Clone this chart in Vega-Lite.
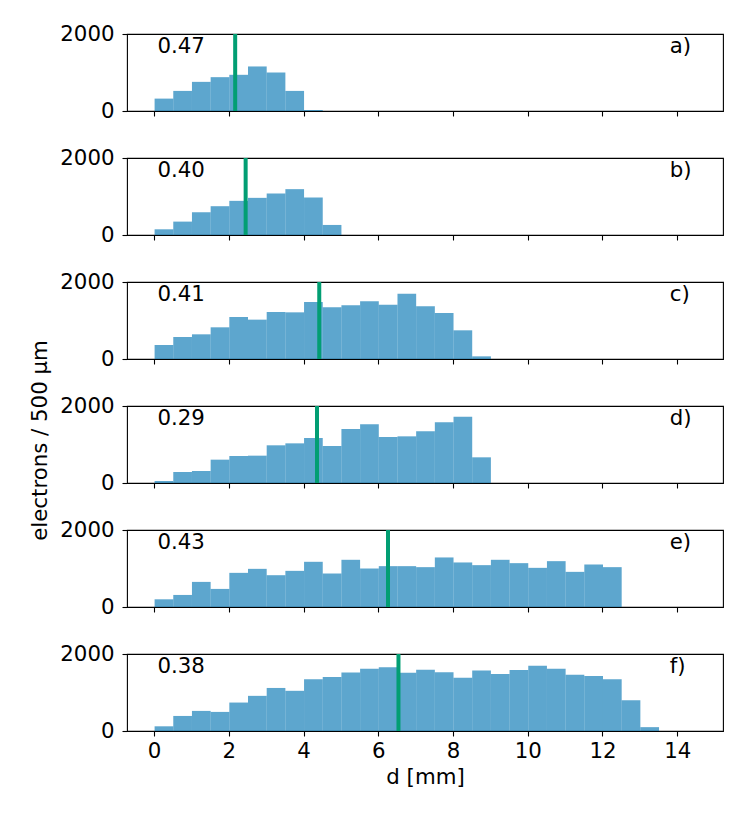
{
  "$schema": "https://vega.github.io/schema/vega-lite/v6.json",
  "padding": {"left": 29, "top": 22, "right": 24, "bottom": 20},
  "spacing": 47,
  "bounds": "flush",
  "datasets": {
    "hist": [
      {"panel": "a", "d": 0, "n": 322}, {"panel": "a", "d": 0.5, "n": 522}, {"panel": "a", "d": 1, "n": 757},
      {"panel": "a", "d": 1.5, "n": 879}, {"panel": "a", "d": 2, "n": 940}, {"panel": "a", "d": 2.5, "n": 1157},
      {"panel": "a", "d": 3, "n": 1000}, {"panel": "a", "d": 3.5, "n": 522}, {"panel": "a", "d": 4, "n": 26},

      {"panel": "b", "d": 0, "n": 148}, {"panel": "b", "d": 0.5, "n": 348}, {"panel": "b", "d": 1, "n": 591},
      {"panel": "b", "d": 1.5, "n": 748}, {"panel": "b", "d": 2, "n": 887}, {"panel": "b", "d": 2.5, "n": 965},
      {"panel": "b", "d": 3, "n": 1078}, {"panel": "b", "d": 3.5, "n": 1191}, {"panel": "b", "d": 4, "n": 974},
      {"panel": "b", "d": 4.5, "n": 261},

      {"panel": "c", "d": 0, "n": 364}, {"panel": "c", "d": 0.5, "n": 572}, {"panel": "c", "d": 1, "n": 641},
      {"panel": "c", "d": 1.5, "n": 823}, {"panel": "c", "d": 2, "n": 1091}, {"panel": "c", "d": 2.5, "n": 1022},
      {"panel": "c", "d": 3, "n": 1221}, {"panel": "c", "d": 3.5, "n": 1212}, {"panel": "c", "d": 4, "n": 1481},
      {"panel": "c", "d": 4.5, "n": 1342}, {"panel": "c", "d": 5, "n": 1394}, {"panel": "c", "d": 5.5, "n": 1498},
      {"panel": "c", "d": 6, "n": 1412}, {"panel": "c", "d": 6.5, "n": 1697}, {"panel": "c", "d": 7, "n": 1368},
      {"panel": "c", "d": 7.5, "n": 1195}, {"panel": "c", "d": 8, "n": 745}, {"panel": "c", "d": 8.5, "n": 69},

      {"panel": "d", "d": 0, "n": 52}, {"panel": "d", "d": 0.5, "n": 286}, {"panel": "d", "d": 1, "n": 312},
      {"panel": "d", "d": 1.5, "n": 606}, {"panel": "d", "d": 2, "n": 701}, {"panel": "d", "d": 2.5, "n": 710},
      {"panel": "d", "d": 3, "n": 979}, {"panel": "d", "d": 3.5, "n": 1030}, {"panel": "d", "d": 4, "n": 1169},
      {"panel": "d", "d": 4.5, "n": 961}, {"panel": "d", "d": 5, "n": 1403}, {"panel": "d", "d": 5.5, "n": 1524},
      {"panel": "d", "d": 6, "n": 1195}, {"panel": "d", "d": 6.5, "n": 1212}, {"panel": "d", "d": 7, "n": 1342},
      {"panel": "d", "d": 7.5, "n": 1576}, {"panel": "d", "d": 8, "n": 1723}, {"panel": "d", "d": 8.5, "n": 667},

      {"panel": "e", "d": 0, "n": 200}, {"panel": "e", "d": 0.5, "n": 313}, {"panel": "e", "d": 1, "n": 652},
      {"panel": "e", "d": 1.5, "n": 470}, {"panel": "e", "d": 2, "n": 887}, {"panel": "e", "d": 2.5, "n": 991},
      {"panel": "e", "d": 3, "n": 826}, {"panel": "e", "d": 3.5, "n": 939}, {"panel": "e", "d": 4, "n": 1174},
      {"panel": "e", "d": 4.5, "n": 870}, {"panel": "e", "d": 5, "n": 1226}, {"panel": "e", "d": 5.5, "n": 1000},
      {"panel": "e", "d": 6, "n": 1061}, {"panel": "e", "d": 6.5, "n": 1061}, {"panel": "e", "d": 7, "n": 1035},
      {"panel": "e", "d": 7.5, "n": 1287}, {"panel": "e", "d": 8, "n": 1157}, {"panel": "e", "d": 8.5, "n": 1087},
      {"panel": "e", "d": 9, "n": 1226}, {"panel": "e", "d": 9.5, "n": 1139}, {"panel": "e", "d": 10, "n": 1017},
      {"panel": "e", "d": 10.5, "n": 1191}, {"panel": "e", "d": 11, "n": 913}, {"panel": "e", "d": 11.5, "n": 1104},
      {"panel": "e", "d": 12, "n": 1035},

      {"panel": "f", "d": 0, "n": 122}, {"panel": "f", "d": 0.5, "n": 391}, {"panel": "f", "d": 1, "n": 522},
      {"panel": "f", "d": 1.5, "n": 496}, {"panel": "f", "d": 2, "n": 739}, {"panel": "f", "d": 2.5, "n": 913},
      {"panel": "f", "d": 3, "n": 1118}, {"panel": "f", "d": 3.5, "n": 1044}, {"panel": "f", "d": 4, "n": 1344},
      {"panel": "f", "d": 4.5, "n": 1405}, {"panel": "f", "d": 5, "n": 1522}, {"panel": "f", "d": 5.5, "n": 1614},
      {"panel": "f", "d": 6, "n": 1653}, {"panel": "f", "d": 6.5, "n": 1513}, {"panel": "f", "d": 7, "n": 1588},
      {"panel": "f", "d": 7.5, "n": 1527}, {"panel": "f", "d": 8, "n": 1383}, {"panel": "f", "d": 8.5, "n": 1574},
      {"panel": "f", "d": 9, "n": 1479}, {"panel": "f", "d": 9.5, "n": 1583}, {"panel": "f", "d": 10, "n": 1692},
      {"panel": "f", "d": 10.5, "n": 1614}, {"panel": "f", "d": 11, "n": 1461}, {"panel": "f", "d": 11.5, "n": 1426},
      {"panel": "f", "d": 12, "n": 1344}, {"panel": "f", "d": 12.5, "n": 800}, {"panel": "f", "d": 13, "n": 100}
    ],
    "meta": [
      {"panel": "a", "frac": "0.47", "mean": 2.17, "tag": "a)"},
      {"panel": "b", "frac": "0.40", "mean": 2.45, "tag": "b)"},
      {"panel": "c", "frac": "0.41", "mean": 4.42, "tag": "c)"},
      {"panel": "d", "frac": "0.29", "mean": 4.36, "tag": "d)"},
      {"panel": "e", "frac": "0.43", "mean": 6.26, "tag": "e)"},
      {"panel": "f", "frac": "0.38", "mean": 6.54, "tag": "f)"}
    ]
  },

  "vconcat": [
    {
      "width": 596, "height": 77,
      "layer": [
        {"data": {"name": "hist"}, "transform": [{"filter": "datum.panel === 'a'"}],
         "mark": {"type": "bar", "color": "#0173b2", "opacity": 0.64, "binSpacing": 0},
         "encoding": {
           "x": {"field": "d", "type": "quantitative", "bin": {"binned": true, "step": 0.5},
                 "scale": {"domain": [-0.725, 15.225], "nice": false, "zero": false},
                 "axis": {"values": [0, 2, 4, 6, 8, 10, 12, 14], "labels": false, "title": null}},
           "y": {"field": "n", "type": "quantitative", "scale": {"domain": [0, 2000], "nice": false},
                 "axis": {"values": [0, 2000], "format": "d", "title": null}}
         }},
        {"data": {"name": "meta"}, "transform": [{"filter": "datum.panel === 'a'"}],
         "mark": {"type": "rule", "color": "#029e73", "strokeWidth": 4},
         "encoding": {"x": {"field": "mean", "type": "quantitative"}}},
        {"data": {"name": "meta"}, "transform": [{"filter": "datum.panel === 'a'"}],
         "mark": {"type": "text", "align": "left", "baseline": "alphabetic"},
         "encoding": {"x": {"datum": 0.09}, "y": {"datum": 1507}, "text": {"field": "frac"}}},
        {"data": {"name": "meta"}, "transform": [{"filter": "datum.panel === 'a'"}],
         "mark": {"type": "text", "align": "left", "baseline": "alphabetic"},
         "encoding": {"x": {"datum": 13.8}, "y": {"datum": 1507}, "text": {"field": "tag"}}}
      ]
    },
    {
      "width": 596, "height": 77,
      "layer": [
        {"data": {"name": "hist"}, "transform": [{"filter": "datum.panel === 'b'"}],
         "mark": {"type": "bar", "color": "#0173b2", "opacity": 0.64, "binSpacing": 0},
         "encoding": {
           "x": {"field": "d", "type": "quantitative", "bin": {"binned": true, "step": 0.5},
                 "scale": {"domain": [-0.725, 15.225], "nice": false, "zero": false},
                 "axis": {"values": [0, 2, 4, 6, 8, 10, 12, 14], "labels": false, "title": null}},
           "y": {"field": "n", "type": "quantitative", "scale": {"domain": [0, 2000], "nice": false},
                 "axis": {"values": [0, 2000], "format": "d", "title": null}}
         }},
        {"data": {"name": "meta"}, "transform": [{"filter": "datum.panel === 'b'"}],
         "mark": {"type": "rule", "color": "#029e73", "strokeWidth": 4},
         "encoding": {"x": {"field": "mean", "type": "quantitative"}}},
        {"data": {"name": "meta"}, "transform": [{"filter": "datum.panel === 'b'"}],
         "mark": {"type": "text", "align": "left", "baseline": "alphabetic"},
         "encoding": {"x": {"datum": 0.09}, "y": {"datum": 1507}, "text": {"field": "frac"}}},
        {"data": {"name": "meta"}, "transform": [{"filter": "datum.panel === 'b'"}],
         "mark": {"type": "text", "align": "left", "baseline": "alphabetic"},
         "encoding": {"x": {"datum": 13.8}, "y": {"datum": 1507}, "text": {"field": "tag"}}}
      ]
    },
    {
      "width": 596, "height": 77,
      "layer": [
        {"data": {"name": "hist"}, "transform": [{"filter": "datum.panel === 'c'"}],
         "mark": {"type": "bar", "color": "#0173b2", "opacity": 0.64, "binSpacing": 0},
         "encoding": {
           "x": {"field": "d", "type": "quantitative", "bin": {"binned": true, "step": 0.5},
                 "scale": {"domain": [-0.725, 15.225], "nice": false, "zero": false},
                 "axis": {"values": [0, 2, 4, 6, 8, 10, 12, 14], "labels": false, "title": null}},
           "y": {"field": "n", "type": "quantitative", "scale": {"domain": [0, 2000], "nice": false},
                 "axis": {"values": [0, 2000], "format": "d", "title": null}}
         }},
        {"data": {"name": "meta"}, "transform": [{"filter": "datum.panel === 'c'"}],
         "mark": {"type": "rule", "color": "#029e73", "strokeWidth": 4},
         "encoding": {"x": {"field": "mean", "type": "quantitative"}}},
        {"data": {"name": "meta"}, "transform": [{"filter": "datum.panel === 'c'"}],
         "mark": {"type": "text", "align": "left", "baseline": "alphabetic"},
         "encoding": {"x": {"datum": 0.09}, "y": {"datum": 1507}, "text": {"field": "frac"}}},
        {"data": {"name": "meta"}, "transform": [{"filter": "datum.panel === 'c'"}],
         "mark": {"type": "text", "align": "left", "baseline": "alphabetic"},
         "encoding": {"x": {"datum": 13.8}, "y": {"datum": 1507}, "text": {"field": "tag"}}}
      ]
    },
    {
      "width": 596, "height": 77,
      "layer": [
        {"data": {"name": "hist"}, "transform": [{"filter": "datum.panel === 'd'"}],
         "mark": {"type": "bar", "color": "#0173b2", "opacity": 0.64, "binSpacing": 0},
         "encoding": {
           "x": {"field": "d", "type": "quantitative", "bin": {"binned": true, "step": 0.5},
                 "scale": {"domain": [-0.725, 15.225], "nice": false, "zero": false},
                 "axis": {"values": [0, 2, 4, 6, 8, 10, 12, 14], "labels": false, "title": null}},
           "y": {"field": "n", "type": "quantitative", "scale": {"domain": [0, 2000], "nice": false},
                 "axis": {"values": [0, 2000], "format": "d", "title": "electrons / 500 μm", "titleY": 34, "titlePadding": 9}}
         }},
        {"data": {"name": "meta"}, "transform": [{"filter": "datum.panel === 'd'"}],
         "mark": {"type": "rule", "color": "#029e73", "strokeWidth": 4},
         "encoding": {"x": {"field": "mean", "type": "quantitative"}}},
        {"data": {"name": "meta"}, "transform": [{"filter": "datum.panel === 'd'"}],
         "mark": {"type": "text", "align": "left", "baseline": "alphabetic"},
         "encoding": {"x": {"datum": 0.09}, "y": {"datum": 1507}, "text": {"field": "frac"}}},
        {"data": {"name": "meta"}, "transform": [{"filter": "datum.panel === 'd'"}],
         "mark": {"type": "text", "align": "left", "baseline": "alphabetic"},
         "encoding": {"x": {"datum": 13.8}, "y": {"datum": 1507}, "text": {"field": "tag"}}}
      ]
    },
    {
      "width": 596, "height": 77,
      "layer": [
        {"data": {"name": "hist"}, "transform": [{"filter": "datum.panel === 'e'"}],
         "mark": {"type": "bar", "color": "#0173b2", "opacity": 0.64, "binSpacing": 0},
         "encoding": {
           "x": {"field": "d", "type": "quantitative", "bin": {"binned": true, "step": 0.5},
                 "scale": {"domain": [-0.725, 15.225], "nice": false, "zero": false},
                 "axis": {"values": [0, 2, 4, 6, 8, 10, 12, 14], "labels": false, "title": null}},
           "y": {"field": "n", "type": "quantitative", "scale": {"domain": [0, 2000], "nice": false},
                 "axis": {"values": [0, 2000], "format": "d", "title": null}}
         }},
        {"data": {"name": "meta"}, "transform": [{"filter": "datum.panel === 'e'"}],
         "mark": {"type": "rule", "color": "#029e73", "strokeWidth": 4},
         "encoding": {"x": {"field": "mean", "type": "quantitative"}}},
        {"data": {"name": "meta"}, "transform": [{"filter": "datum.panel === 'e'"}],
         "mark": {"type": "text", "align": "left", "baseline": "alphabetic"},
         "encoding": {"x": {"datum": 0.09}, "y": {"datum": 1507}, "text": {"field": "frac"}}},
        {"data": {"name": "meta"}, "transform": [{"filter": "datum.panel === 'e'"}],
         "mark": {"type": "text", "align": "left", "baseline": "alphabetic"},
         "encoding": {"x": {"datum": 13.8}, "y": {"datum": 1507}, "text": {"field": "tag"}}}
      ]
    },
    {
      "width": 596, "height": 77,
      "layer": [
        {"data": {"name": "hist"}, "transform": [{"filter": "datum.panel === 'f'"}],
         "mark": {"type": "bar", "color": "#0173b2", "opacity": 0.64, "binSpacing": 0},
         "encoding": {
           "x": {"field": "d", "type": "quantitative", "bin": {"binned": true, "step": 0.5},
                 "scale": {"domain": [-0.725, 15.225], "nice": false, "zero": false},
                 "axis": {"values": [0, 2, 4, 6, 8, 10, 12, 14], "format": "d", "title": "d [mm]", "labelPadding": 4, "titlePadding": 5}},
           "y": {"field": "n", "type": "quantitative", "scale": {"domain": [0, 2000], "nice": false},
                 "axis": {"values": [0, 2000], "format": "d", "title": null}}
         }},
        {"data": {"name": "meta"}, "transform": [{"filter": "datum.panel === 'f'"}],
         "mark": {"type": "rule", "color": "#029e73", "strokeWidth": 4},
         "encoding": {"x": {"field": "mean", "type": "quantitative"}}},
        {"data": {"name": "meta"}, "transform": [{"filter": "datum.panel === 'f'"}],
         "mark": {"type": "text", "align": "left", "baseline": "alphabetic"},
         "encoding": {"x": {"datum": 0.09}, "y": {"datum": 1507}, "text": {"field": "frac"}}},
        {"data": {"name": "meta"}, "transform": [{"filter": "datum.panel === 'f'"}],
         "mark": {"type": "text", "align": "left", "baseline": "alphabetic"},
         "encoding": {"x": {"datum": 13.8}, "y": {"datum": 1507}, "text": {"field": "tag"}}}
      ]
    }
  ],

  "config": {
    "background": "white",
    "view": {"stroke": "#000", "strokeWidth": 1.1},
    "axis": {
      "domain": false, "grid": false,
      "tickColor": "#000", "tickSize": 5, "tickWidth": 1.1,
      "labelFont": "DejaVu Sans", "labelFontSize": 21.3, "labelColor": "#000",
      "labelPadding": 8, "labelFlush": false, "labelOverlap": false,
      "titleFont": "DejaVu Sans", "titleFontSize": 21.3, "titleFontWeight": "normal", "titleColor": "#000"
    },
    "text": {"font": "DejaVu Sans", "fontSize": 21.3, "color": "#000"}
  }
}
